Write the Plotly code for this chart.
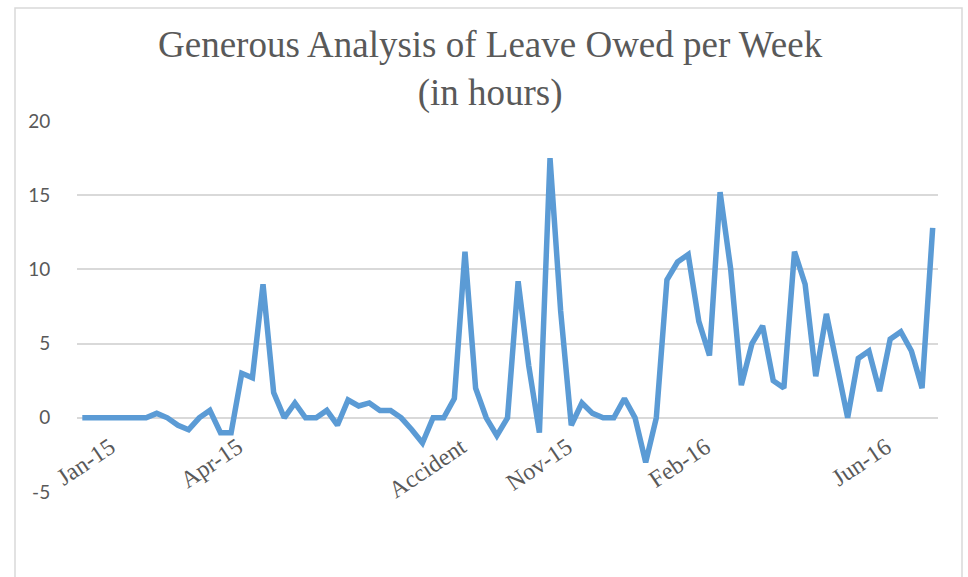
import plotly.graph_objects as go

# Weekly leave owed (hours), week 0 = first week of the series
week = list(range(81))
leave_owed = [
    0, 0, 0, 0, 0, 0, 0, 0.3, 0, -0.5,
    -0.8, 0, 0.5, -1, -1, 3, 2.7, 9, 1.7, 0,
    1, 0, 0, 0.5, -0.5, 1.2, 0.8, 1, 0.5, 0.5,
    0, -0.8, -1.7, 0, 0, 1.3, 11.2, 2, 0, -1.2,
    0, 9.2, 3.5, -1, 17.5, 7.2, -0.5, 1, 0.3, 0,
    0, 1.3, 0, -3, 0, 9.3, 10.5, 11, 6.5, 4.2,
    15.2, 10, 2.2, 5, 6.2, 2.5, 2, 11.2, 9, 2.8,
    7, 3.5, 0, 4, 4.5, 1.8, 5.3, 5.8, 4.5, 2,
    12.8,
]

# Category labels shown along the axis
label_weeks = [3, 15, 36, 46, 59, 76]
label_text = ["Jan-15", "Apr-15", "Accident", "Nov-15", "Feb-16", "Jun-16"]

y_ticks = [-5, 0, 5, 10, 15, 20]
y_tick_text = ["-5", "0", "5", "10", "15", "20"]

TEXT = "#595959"
GRID = "#D9D9D9"
LINE = "#5B9BD5"

fig = go.Figure()
fig.add_trace(go.Scatter(
    x=week,
    y=leave_owed,
    mode="lines",
    line=dict(color=LINE, width=5.5, shape="linear"),
    hoverinfo="x+y",
    showlegend=False,
))

W, H = 968, 577
ml, mr, mt, mb = 77, 30, 121, 85
pw, ph = W - ml - mr, H - mt - mb
y_lo, y_hi = -5, 20

fig.update_layout(
    width=W,
    height=H,
    margin=dict(l=ml, r=mr, t=mt, b=mb),
    paper_bgcolor="white",
    plot_bgcolor="white",
    xaxis=dict(
        range=[-0.5, 80.5],
        tickmode="array",
        tickvals=label_weeks,
        ticktext=label_text,
        tickangle=-34,
        tickfont=dict(family="Liberation Serif", size=24, color=TEXT),
        ticklabelshift=-4,
        showgrid=False,
        zeroline=False,
        showline=False,
        ticks="outside",
        ticklen=5,
        tickcolor="rgba(0,0,0,0)",
        anchor="free",
        position=(0 - y_lo) / (y_hi - y_lo),
    ),
    yaxis=dict(
        range=[y_lo, y_hi],
        tickmode="array",
        tickvals=y_ticks,
        ticktext=y_tick_text,
        tickfont=dict(family="Lato", size=19, color=TEXT),
        showgrid=True,
        gridcolor=GRID,
        gridwidth=1.5,
        zeroline=False,
        showline=False,
        ticks="outside",
        ticklen=22,
        tickcolor="rgba(0,0,0,0)",
    ),
    annotations=[
        dict(
            text="Generous Analysis of Leave Owed per Week<br>(in hours)",
            xref="paper", yref="paper",
            x=(490 - ml) / pw,
            y=(H - 22 - mb) / ph,
            xanchor="center",
            yanchor="top",
            showarrow=False,
            align="center",
            font=dict(family="Liberation Serif", size=37, color=TEXT),
        )
    ],
    shapes=[
        # outer chart frame
        dict(
            type="rect",
            xref="paper", yref="paper",
            x0=(15 - ml) / pw, x1=(962 - ml) / pw,
            y0=(H - 600 - mb) / ph, y1=(H - 8 - mb) / ph,
            line=dict(color=GRID, width=1.5),
            fillcolor="rgba(0,0,0,0)",
            layer="below",
        )
    ],
)

fig.write_html("out.html")
